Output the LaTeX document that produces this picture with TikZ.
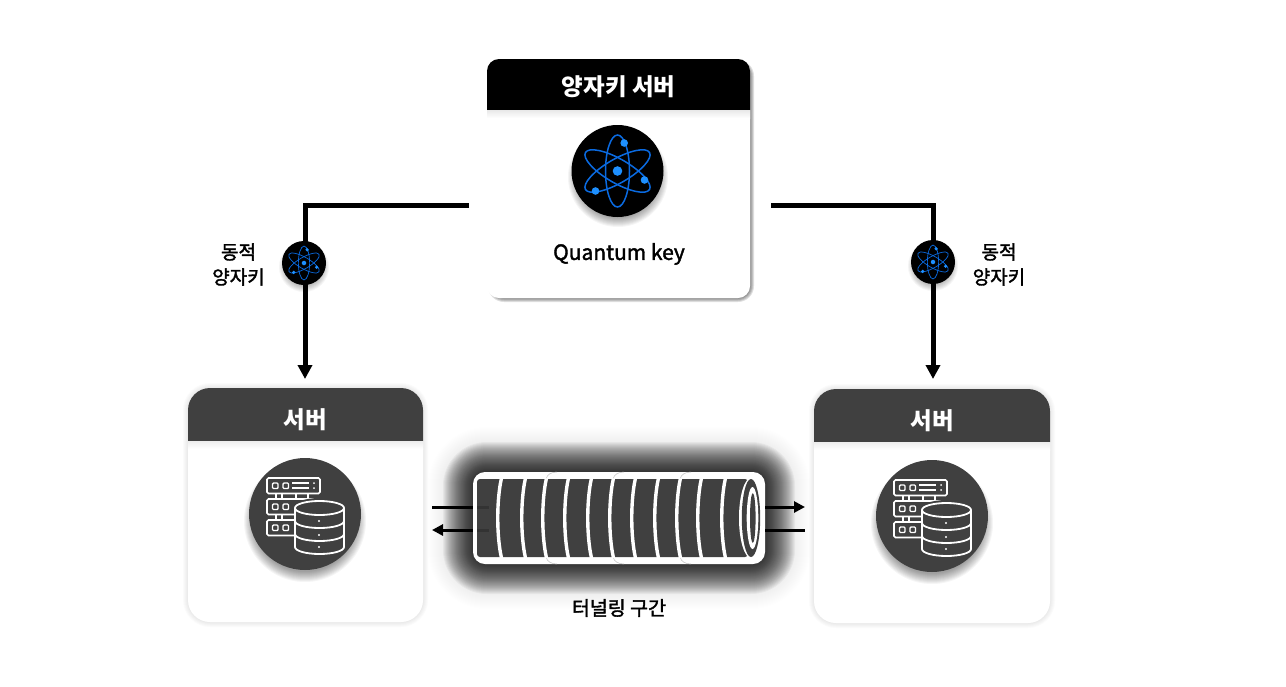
\documentclass[tikz,border=0pt]{standalone}
\usepackage{fontspec}
\setmainfont{Noto Sans CJK KR}
\newfontfamily\medfont[FakeBold=1.8]{Noto Sans CJK KR}
\usetikzlibrary{arrows.meta,calc}
\definecolor{atomblue}{HTML}{0A6AE0}
\definecolor{atomdot}{HTML}{1E90FF}
\definecolor{srvgray}{HTML}{404040}
\tikzset{
  keycard/.style={fill=white,rounded corners=12pt,minimum width=263pt,minimum height=239pt,inner sep=0pt},
  srvcard/.style={fill=white,rounded corners=22pt,minimum width=235pt,minimum height=234pt,inner sep=0pt},
  disc/.style={circle,inner sep=0pt,minimum size=#1},
  link/.style={line width=5pt,-{Triangle[length=14pt,width=14pt]}},
  flow/.style={line width=3pt,black},
  flowtip/.style={flow,-{Triangle[length=11pt,width=11pt]}},
  title/.style={text=white,font=\fontsize{23.5}{30}\selectfont\bfseries,inner sep=0pt},
  caption/.style={text=black,align=center,font=\fontsize{19}{25}\selectfont\medfont,inner sep=0pt},
  rackline/.style={draw=white,line width=1.7pt,rounded corners=1.5pt},
}
% x1,y1,x2,y2,radius,spread,opacity
\newcommand{\softbox}[7]{%
  \foreach \g in {#6,...,1} \fill[black,opacity=#7,rounded corners=#5*1pt+\g*1pt] (#1-\g,#2-\g) rectangle (#3+\g,#4+\g);}
% x,y,radius,spread,opacity
\newcommand{\softdisc}[5]{%
  \foreach \g in {#4,...,1} \fill[black,opacity=#5] (#1,#2) circle (#3+\g);}
\newcommand{\atomicon}[2]{%
  \begin{scope}[shift={(#1)},scale=#2]
    \draw[atomblue,line width=#2*1.5pt] (0,0) ellipse [x radius=12,y radius=36];
    \draw[atomblue,line width=#2*1.5pt,rotate=30] (0,0) ellipse [x radius=37,y radius=12];
    \draw[atomblue,line width=#2*1.5pt,rotate=-30] (0,0) ellipse [x radius=37,y radius=12];
    \fill[atomdot] (0,0) circle (4.8);
    \fill[atomdot] (6.7,-28) circle (3.8);
    \fill[atomdot] (27,9) circle (3.8);
    \fill[atomdot] (-22,20) circle (3.8);
  \end{scope}}
\newcommand{\servericon}[1]{%
  \begin{scope}[shift={(#1)}]
    \foreach \y in {-36,-15,6} {
      \draw[rackline] (-38,\y) rectangle (15,\y+15.5);
      \draw[white,line width=1.4pt,rounded corners=1pt] (-32.5,\y+5) rectangle (-27,\y+10.5);
      \draw[white,line width=1.4pt,rounded corners=1pt] (-22,\y+5) rectangle (-16.5,\y+10.5);
    }
    \foreach \y in {-20.5,0.5} {
      \draw[white,line width=1.4pt] (-29,\y) -- (-29,\y+5.5);
      \draw[white,line width=1.4pt] (-23,\y) -- (-23,\y+5.5);
      \draw[white,line width=1.4pt] (-9,\y) -- (-9,\y+5.5);
      \draw[white,line width=1.4pt] (3,\y) -- (3,\y+5.5);
    }
    \draw[white,line width=1.4pt] (-13,-31) -- (4,-31);
    \draw[white,line width=1.4pt] (-13,-26) -- (4,-26);
    \fill[white] (9,-31) circle (1) (9,-26) circle (1);
    \fill[srvgray] (14.5,-6) ellipse [x radius=27,y radius=10];
    \draw[white,fill=srvgray,line width=1.8pt] (-10,-6) -- (-10,33) arc [start angle=180,end angle=360,x radius=24.5,y radius=-7] -- (39,-6);
    \draw[white,fill=srvgray,line width=1.8pt] (14.5,-6) ellipse [x radius=24.5,y radius=7];
    \draw[white,line width=1.8pt] (-10,7) arc [start angle=180,end angle=360,x radius=24.5,y radius=-7];
    \draw[white,line width=1.8pt] (-10,20) arc [start angle=180,end angle=360,x radius=24.5,y radius=-7];
    \fill[white] (14,7) circle (1.2) (14,21) circle (1.2) (14,33) circle (1.2);
  \end{scope}}
\begin{document}
\begin{tikzpicture}[x=1pt,y=-1pt]
  \useasboundingbox[fill=white] (0,0) rectangle (1286,686);
  % key server
  \softbox{492}{64}{750}{298}{12}{4}{.12}
  \node[keycard] (keysrv) at (618.5,178.5) {};
  \fill[black,rounded corners=12pt] (487,110) -- (487,59) -- (750,59) -- (750,110);
  \shade[top color=black!9,bottom color=white] (487,110) rectangle (750,118);
  \node[title] (keytitle) at (618.5,87) {양자키 서버};
  \softdisc{618}{177}{40}{10}{.04}
  \node[disc=92pt,fill=black] (keyatom) at (617.5,171) {};
  \atomicon{keyatom.center}{1}
  \node[text=black,inner sep=0pt,font=\fontsize{21}{26}\selectfont\medfont] (keylabel) at (619,254) {Quantum key};
  % links
  \coordinate (linkL) at (469,205);
  \coordinate (linkR) at (771,205);
  \softbox{188}{388}{423}{622}{22}{5}{.015}
  \softbox{814}{389}{1050}{623}{22}{5}{.015}
  \node[srvcard] (srvL) at (305.5,505) {};
  \node[srvcard,minimum width=236pt] (srvR) at (932,506) {};
  \draw[link] (linkL) -- (305,205) -- (305,379);
  \draw[link] (linkR) -- (933,205) -- (933,379);
  \softdisc{304}{267}{18}{7}{.04}
  \softdisc{933}{266}{18}{7}{.04}
  \node[disc=44pt,fill=black] (atomL) at (304,263) {};
  \node[disc=44pt,fill=black] (atomR) at (933,262) {};
  \atomicon{atomL.center}{0.47}
  \atomicon{atomR.center}{0.47}
  \node[caption] (dynL) at (238.5,264.5) {동적\\양자키};
  \node[caption] (dynR) at (999,264.5) {동적\\양자키};
  % left server
  \fill[srvgray,rounded corners=22pt] (188,441) -- (188,388) -- (423,388) -- (423,441);
  \shade[top color=black!7,bottom color=white] (188,441) rectangle (423,449);
  \node[title] (titleL) at (305.5,420) {서버};
  \softdisc{305}{521}{50}{11}{.04}
  \node[disc=112pt,fill=srvgray] (discL) at (305,514) {};
  \servericon{discL.center}
  % right server
  \fill[srvgray,rounded corners=22pt] (814,442) -- (814,389) -- (1050,389) -- (1050,442);
  \shade[top color=black!7,bottom color=white] (814,442) rectangle (1050,450);
  \node[title] (titleR) at (932,421) {서버};
  \softdisc{932}{523}{50}{11}{.04}
  \node[disc=112pt,fill=srvgray] (discR) at (932,516) {};
  \servericon{discR.center}
  % tunnel glow
  \softbox{473}{472}{765}{564}{14}{45}{.004}
  \softbox{473}{472}{765}{564}{14}{30}{.04}
  % tunnel ports
  \node[fill=white,rounded corners=12pt,minimum width=292pt,minimum height=92pt,inner sep=0pt] (tunnel) at (619,518) {};
  \coordinate (portLa) at (432,507);
  \coordinate (portLb) at (432,530);
  \coordinate (portRa) at (805,507);
  \coordinate (portRb) at (805,530);
  \draw[flow] (portLa) -- (tunnel.west |- portLa);
  \draw[flowtip] (tunnel.west |- portLb) -- (portLb);
  \draw[flowtip] (tunnel.east |- portRa) -- (portRa);
  \draw[flow] (tunnel.east |- portRb) -- (portRb);
  % tunnel body
  \fill[srvgray,rounded corners=3pt] (477,479) -- (477,557) -- (748,557) -- (748,479) -- cycle;
  \draw[black,opacity=.2,line width=3pt] (tunnel.west |- portLa) ++(4,0) -- ++(12,0);
  \draw[black,opacity=.2,line width=3pt] (tunnel.west |- portLb) ++(4,0) -- ++(12,0);
  \foreach \x in {498,522,543,565,588,610,632,655,677,698,722} {
    \draw[white,line width=3.4pt] (\x+3.5,478) .. controls (\x-1.5,500) and (\x-1.5,536) .. (\x+3.5,558);
  }
  \foreach \x in {543,610,677} {
    \draw[black!25,line width=.5pt] (\x+3.5,478) .. controls (\x+4,475) and (\x+8,472) .. (\x+14,472);
    \draw[black!25,line width=.5pt] (\x+3.5,558) .. controls (\x+4,561) and (\x+8,564) .. (\x+14,564);
  }
  \fill[white] (751,518) ellipse [x radius=12,y radius=40];
  \fill[srvgray] (751,518) ellipse [x radius=9.2,y radius=39];
  \fill[white] (752.5,518) ellipse [x radius=5.8,y radius=31];
  \fill[srvgray] (752.8,518) ellipse [x radius=2.8,y radius=25];
  \node[caption,font=\fontsize{19.5}{25}\selectfont\medfont] (tunnellabel) at (619,608) {터널링 구간};
\end{tikzpicture}
\end{document}
